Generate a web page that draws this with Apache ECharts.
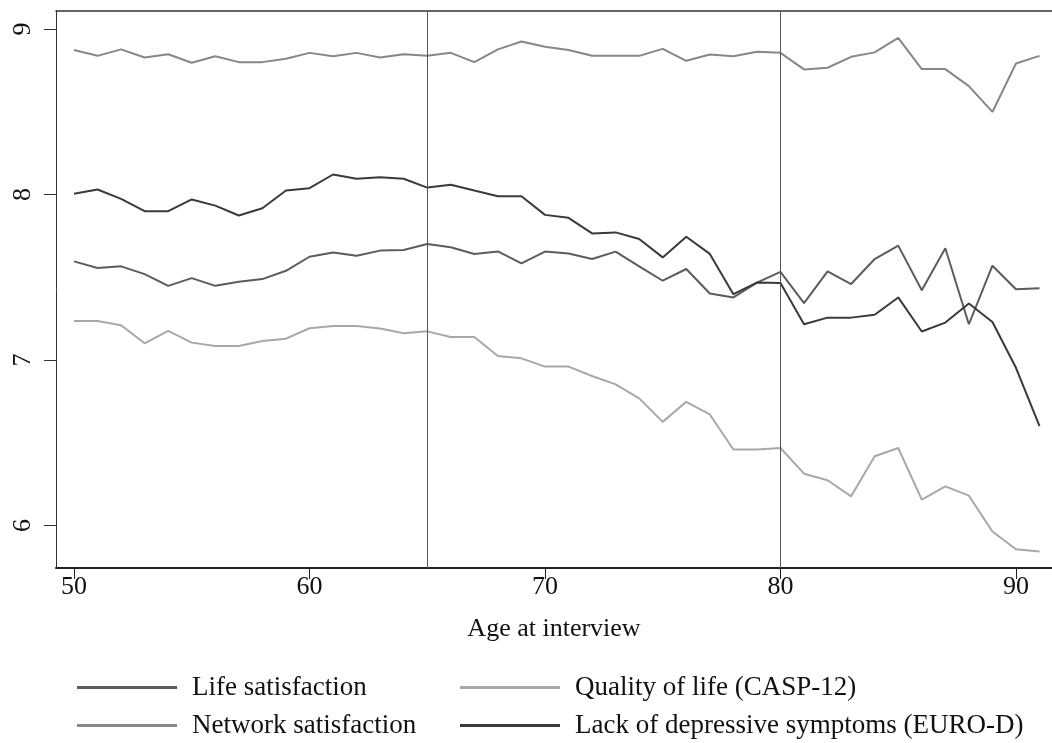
<!DOCTYPE html>
<html>
<head>
<meta charset="utf-8">
<style>
  html, body { margin: 0; padding: 0; background: #fff; }
  #chart { width: 1052px; height: 743px; }
</style>
<script src="https://cdn.jsdelivr.net/npm/echarts@6/dist/echarts.min.js"></script>
</head>
<body>
<div id="chart"></div>
<script>
// Age at interview (years)
const ages = [50,51,52,53,54,55,56,57,58,59,60,61,62,63,64,65,66,67,68,69,70,
              71,72,73,74,75,76,77,78,79,80,81,82,83,84,85,86,87,88,89,90,91];

// Mean scores by age
const lifeSatisfaction = [7.596,7.556,7.566,7.519,7.448,7.495,7.448,7.473,7.489,7.539,7.624,
  7.650,7.630,7.661,7.665,7.701,7.681,7.641,7.656,7.584,7.655,7.644,7.610,7.655,7.566,7.479,
  7.550,7.402,7.378,7.468,7.532,7.344,7.535,7.459,7.610,7.691,7.422,7.675,7.216,7.570,7.428,7.434];

const qualityOfLife = [7.236,7.236,7.210,7.101,7.176,7.105,7.085,7.085,7.115,7.129,7.192,
  7.206,7.206,7.190,7.162,7.173,7.139,7.139,7.024,7.010,6.960,6.960,6.903,6.853,6.768,6.626,
  6.747,6.671,6.459,6.459,6.468,6.313,6.273,6.176,6.418,6.468,6.156,6.236,6.180,5.964,5.856,5.842];

const networkSatisfaction = [8.873,8.838,8.877,8.828,8.848,8.796,8.836,8.800,8.800,8.820,8.856,
  8.836,8.856,8.828,8.848,8.838,8.856,8.800,8.877,8.925,8.893,8.873,8.838,8.838,8.838,8.880,
  8.808,8.846,8.836,8.863,8.856,8.756,8.766,8.832,8.859,8.947,8.758,8.758,8.655,8.499,8.792,8.838];

const lackOfDepression = [8.004,8.030,7.974,7.899,7.899,7.970,7.933,7.873,7.917,8.024,8.038,
  8.121,8.095,8.105,8.095,8.042,8.059,8.024,7.990,7.990,7.877,7.859,7.765,7.771,7.731,7.620,
  7.745,7.641,7.398,7.468,7.466,7.216,7.256,7.256,7.273,7.378,7.172,7.226,7.341,7.230,6.953,6.600];

// Axis ticks and reference ages
const xTicks = [50, 60, 70, 80, 90];
const yTicks = [6, 7, 8, 9];
const refAges = [65, 80];

const names = ['Life satisfaction', 'Quality of life (CASP-12)',
               'Network satisfaction', 'Lack of depressive symptoms (EURO-D)'];
const colors = ['#5c5c5c', '#a8a8a8', '#878787', '#3a3a3a'];
const values = [lifeSatisfaction, qualityOfLife, networkSatisfaction, lackOfDepression];

const FONT = '"Liberation Serif", "DejaVu Serif", serif';

const series = values.map((vals, i) => ({
  name: names[i],
  type: 'line',
  data: ages.map((a, k) => [a, vals[k]]),
  symbol: 'none',
  lineStyle: { color: colors[i], width: 2 },
  itemStyle: { color: colors[i] },
  z: 3
}));

// Vertical reference lines at the pension-age cut-offs
series.push({
  type: 'line',
  data: [],
  silent: true,
  markLine: {
    silent: true,
    symbol: 'none',
    label: { show: false },
    lineStyle: { color: '#555', width: 1, type: 'solid' },
    data: refAges.map(a => ({ xAxis: a }))
  }
});

const legendCommon = {
  orient: 'vertical',
  icon: 'rect',
  padding: 0,
  itemWidth: 100,
  itemHeight: 3,
  itemGap: 11,
  textStyle: { fontFamily: FONT, fontSize: 27, color: '#111', padding: [0, 0, 0, 10] },
  selectedMode: false
};

const option = {
  animation: false,
  backgroundColor: '#fff',
  grid: { left: 56, right: 0, top: 11, bottom: 175 },
  xAxis: [{
    type: 'value',
    min: 49.236,
    max: 91.53,
    name: 'Age at interview',
    nameLocation: 'middle',
    nameGap: 48,
    nameTextStyle: { fontFamily: FONT, fontSize: 26, color: '#111' },
    axisLine: { show: true, lineStyle: { color: '#222', width: 2 } },
    axisTick: { show: true, customValues: xTicks, length: 11, lineStyle: { color: '#222', width: 1 } },
    axisLabel: { customValues: xTicks, fontFamily: FONT, fontSize: 26, color: '#111', margin: 6 },
    splitLine: { show: false }
  }, {
    type: 'value',
    position: 'top',
    min: 49.236,
    max: 91.53,
    axisLine: { show: true, lineStyle: { color: '#333', width: 1.5 } },
    axisTick: { show: false },
    axisLabel: { show: false },
    splitLine: { show: false }
  }],
  yAxis: {
    type: 'value',
    min: 5.743,
    max: 9.109,
    axisLine: { show: true, lineStyle: { color: '#333', width: 1 } },
    axisTick: { show: true, customValues: yTicks, length: 12, lineStyle: { color: '#333', width: 1 } },
    axisLabel: { customValues: yTicks, rotate: 90, fontFamily: FONT, fontSize: 26, color: '#111', margin: 20 },
    splitLine: { show: false }
  },
  legend: [
    Object.assign({ left: 77, top: 674, data: [names[0], names[2]] }, legendCommon),
    Object.assign({ left: 460, top: 674, data: [names[1], names[3]] }, legendCommon)
  ],
  series: series
};

const chart = echarts.init(document.getElementById('chart'), null, { renderer: 'canvas' });
chart.setOption(option);
</script>
</body>
</html>
